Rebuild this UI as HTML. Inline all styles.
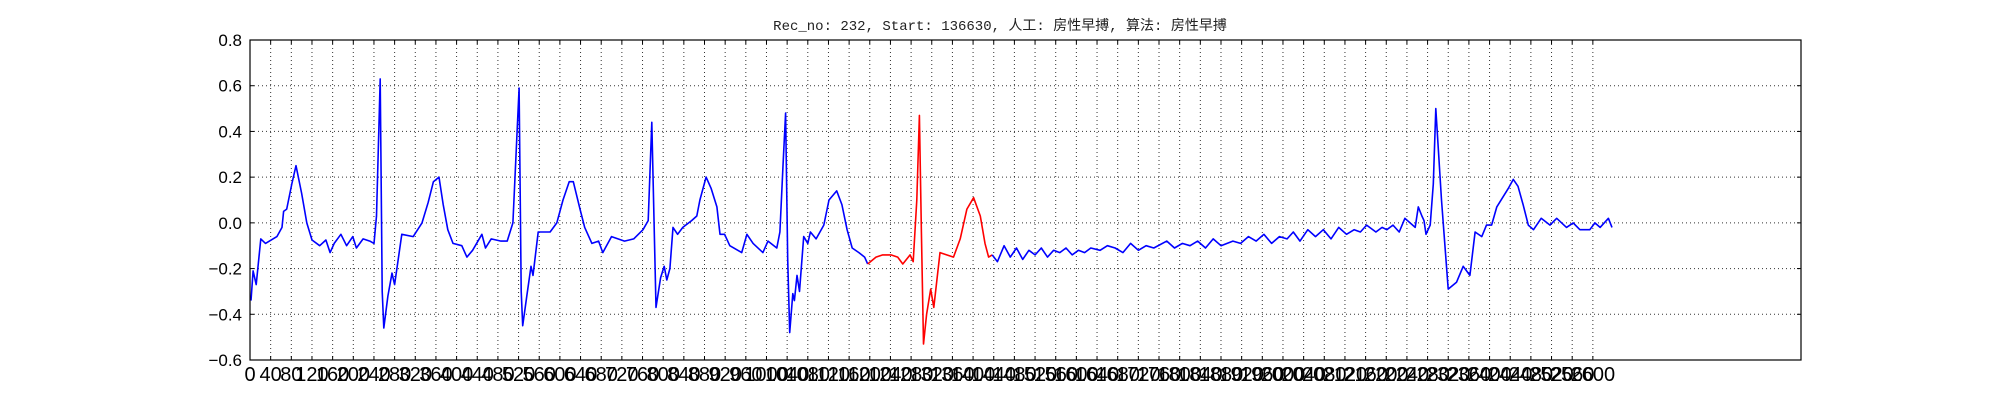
<!DOCTYPE html>
<html><head><meta charset="utf-8"><style>
body{margin:0;background:#fff;}
svg{display:block;}
text{font-family:"Liberation Sans","DejaVu Sans",sans-serif;}
</style></head><body>
<svg id="chart" width="2000" height="400" xmlns="http://www.w3.org/2000/svg">
<rect width="2000" height="400" fill="#fff"/>
<text x="1000" y="30" text-anchor="middle" font-size="14" style="font-family:'Liberation Mono','Noto Sans CJK SC',monospace" fill="#222">Rec_no: 232, Start: 136630, 人工: 房性早搏, 算法: 房性早搏</text>
<g id="grid"></g>
<g id="series"></g>
<g id="axes"></g>
</svg>
<script>
const samples = [2,6,12,21,30,52,62,65,71,81,89,100,110,120,135,147,155,163,176,187,199,206,219,232,240,245,252,256,259,267,275,280,294,316,333,345,355,366,374,383,393,410,420,431,449,456,467,486,498,509,521,525,528,536,544,548,558,581,594,606,618,626,639,648,662,675,683,700,725,743,761,771,778,786,795,802,807,813,819,828,838,855,865,871,883,893,904,910,919,929,952,962,974,993,1003,1020,1026,1032,1037,1041,1045,1051,1054,1059,1064,1072,1080,1085,1096,1111,1121,1136,1146,1156,1166,1179,1190,1196,1212,1225,1241,1254,1264,1278,1284,1291,1296,1300,1304,1310,1318,1324,1336,1349,1362,1375,1388,1401,1414,1423,1430,1437,1447,1460,1472,1484,1496,1508,1520,1532,1544,1556,1568,1580,1592,1604,1616,1628,1646,1660,1675,1690,1705,1720,1735,1750,1775,1790,1805,1820,1835,1850,1865,1880,1903,1918,1933,1948,1963,1978,1993,2008,2020,2033,2048,2063,2078,2093,2108,2123,2138,2150,2162,2180,2192,2201,2213,2225,2236,2256,2262,2269,2273,2277,2285,2291,2296,2307,2320,2336,2349,2362,2372,2385,2394,2404,2414,2436,2446,2455,2465,2475,2485,2500,2517,2530,2549,2562,2575,2594,2604,2614,2630,2637];
const values = [-0.34,-0.21,-0.27,-0.07,-0.09,-0.06,-0.02,0.05,0.06,0.17,0.25,0.13,0,-0.075,-0.1,-0.075,-0.13,-0.09,-0.05,-0.1,-0.06,-0.11,-0.07,-0.08,-0.09,0.03,0.63,-0.3,-0.46,-0.32,-0.22,-0.27,-0.05,-0.06,0,0.09,0.18,0.2,0.08,-0.03,-0.09,-0.1,-0.15,-0.12,-0.05,-0.11,-0.07,-0.08,-0.08,0,0.59,-0.3,-0.45,-0.32,-0.19,-0.23,-0.04,-0.04,0,0.1,0.18,0.18,0.06,-0.02,-0.09,-0.08,-0.13,-0.06,-0.08,-0.07,-0.03,0.01,0.44,-0.37,-0.24,-0.19,-0.25,-0.2,-0.02,-0.05,-0.02,0.01,0.03,0.1,0.2,0.15,0.07,-0.05,-0.05,-0.1,-0.13,-0.05,-0.09,-0.13,-0.08,-0.11,-0.04,0.25,0.48,-0.16,-0.48,-0.31,-0.34,-0.23,-0.3,-0.06,-0.09,-0.04,-0.07,-0.01,0.1,0.14,0.08,-0.03,-0.11,-0.13,-0.15,-0.18,-0.15,-0.14,-0.14,-0.15,-0.18,-0.14,-0.17,0.1,0.47,-0.04,-0.53,-0.4,-0.29,-0.37,-0.13,-0.14,-0.15,-0.07,0.06,0.11,0.03,-0.09,-0.15,-0.14,-0.17,-0.1,-0.15,-0.11,-0.16,-0.12,-0.14,-0.11,-0.15,-0.12,-0.13,-0.11,-0.14,-0.12,-0.13,-0.11,-0.12,-0.1,-0.11,-0.13,-0.09,-0.12,-0.1,-0.11,-0.08,-0.11,-0.09,-0.1,-0.08,-0.11,-0.07,-0.1,-0.08,-0.09,-0.06,-0.08,-0.05,-0.09,-0.06,-0.07,-0.04,-0.08,-0.03,-0.06,-0.03,-0.07,-0.02,-0.05,-0.03,-0.04,-0.01,-0.04,-0.02,-0.03,-0.01,-0.04,0.02,-0.02,0.07,0.03,0.01,-0.05,-0.01,0.17,0.5,0.1,-0.29,-0.26,-0.19,-0.23,-0.04,-0.06,-0.01,-0.01,0.07,0.15,0.19,0.16,0.08,-0.01,-0.03,0.02,-0.01,0.02,-0.02,0,-0.03,-0.03,0,-0.02,0.02,-0.02,0,-0.07,-0.03,-0.02,-0.06];
const redStart = 1196, redEnd = 1437;
const xTicks = []; for (let t = 0; t <= 2600; t += 40) xTicks.push(t);
const yTicks = [-0.6,-0.4,-0.2,0.0,0.2,0.4,0.6,0.8];
const yTickLabels = ['\u22120.6','\u22120.4','\u22120.2','0.0','0.2','0.4','0.6','0.8'];

const L = 250, R = 1801, T = 40, B = 360, XMAX = 3003, YMIN = -0.6, YMAX = 0.8;
const xs = v => L + v / XMAX * (R - L);
const ys = v => B - (v - YMIN) / (YMAX - YMIN) * (B - T);
const NS = 'http://www.w3.org/2000/svg';
const mk = (tag, attrs, parent) => { const e = document.createElementNS(NS, tag); for (const k in attrs) e.setAttribute(k, attrs[k]); parent.appendChild(e); return e; };
const grid = document.getElementById('grid'), axes = document.getElementById('axes'), series = document.getElementById('series');

xTicks.forEach(t => {
  const x = xs(t);
  const g = mk('line', {x1:x, x2:x, y1:T, y2:B, stroke:'#000', 'stroke-width':1, 'stroke-dasharray':'1,3', opacity:0.8}, grid);
  
  
  const t1 = mk('line', {x1:x, x2:x, y1:B, y2:B-4, stroke:'#000'}, axes);
  
  
  mk('line', {x1:x, x2:x, y1:T, y2:T+4, stroke:'#000'}, axes);
  const lb = mk('text', {x:x, y:B+21, 'text-anchor':'middle', 'font-size':20, fill:'#000'}, axes);
  lb.textContent = t;
  
  
});
yTicks.forEach((t, i) => {
  const y = ys(t);
  const g = mk('line', {x1:L, x2:R, y1:y, y2:y, stroke:'#000', 'stroke-width':1, 'stroke-dasharray':'1,3', opacity:0.8}, grid);
  
  
  mk('line', {x1:L, x2:L+4, y1:y, y2:y, stroke:'#000'}, axes);
  mk('line', {x1:R, x2:R-4, y1:y, y2:y, stroke:'#000'}, axes);
  const lb = mk('text', {x:L-8, y:y+6, 'text-anchor':'end', 'font-size':17, fill:'#000'}, axes);
  lb.textContent = yTickLabels[i];
  
  
});
const frame = mk('rect', {x:L, y:T, width:R-L, height:B-T, fill:'none', stroke:'#000', 'stroke-width':1.2}, axes);



function pathFor(filter) {
  let d = '';
  samples.forEach((s, i) => { if (filter(s)) d += (d ? 'L' : 'M') + xs(s).toFixed(1) + ',' + ys(values[i]).toFixed(1); });
  return d;
}
const b1 = mk('path', {d:pathFor(s => s <= redStart), fill:'none', stroke:'#0000ff', 'stroke-width':1.6, 'stroke-linejoin':'round'}, series);


const rd = mk('path', {d:pathFor(s => s >= redStart && s <= redEnd), fill:'none', stroke:'#ff0000', 'stroke-width':1.6, 'stroke-linejoin':'round'}, series);


const b2 = mk('path', {d:pathFor(s => s >= redEnd), fill:'none', stroke:'#0000ff', 'stroke-width':1.6, 'stroke-linejoin':'round'}, series);


</script>
</body></html>
